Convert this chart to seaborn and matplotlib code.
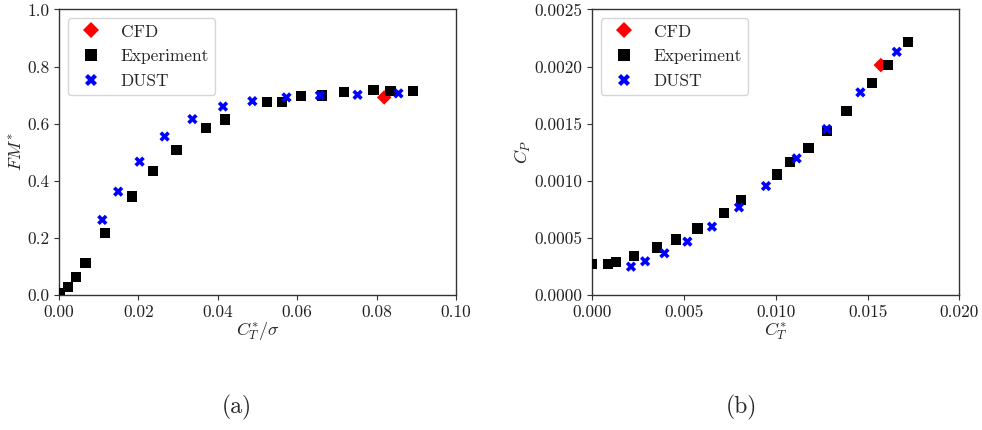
import numpy as np
import pandas as pd
import matplotlib
matplotlib.use("Agg")
import matplotlib.pyplot as plt
import seaborn as sns

# ---------------- data: panel (a) ----------------
a_cfd_x = [0.0819]
a_cfd_y = [0.692]
a_exp_x = [0.0003, 0.0023, 0.0043, 0.0067, 0.0115, 0.0183, 0.0236, 0.0296, 0.0370, 0.0418,
           0.0523, 0.0561, 0.0609, 0.0663, 0.0718, 0.0792, 0.0835, 0.0891]
a_exp_y = [0.005, 0.029, 0.064, 0.113, 0.218, 0.345, 0.433, 0.508, 0.584, 0.615,
           0.675, 0.675, 0.696, 0.699, 0.711, 0.717, 0.715, 0.714]
a_dust_x = [0.0109, 0.0149, 0.0203, 0.0266, 0.0336, 0.0413, 0.0487, 0.0573, 0.0657, 0.0752, 0.0855]
a_dust_y = [0.263, 0.362, 0.467, 0.555, 0.616, 0.660, 0.679, 0.692, 0.699, 0.701, 0.706]

# ---------------- data: panel (b) ----------------
b_cfd_x = [0.01572]
b_cfd_y = [0.002013]
b_exp_x = [0.0000, 0.00085, 0.0013, 0.00229, 0.00352, 0.00457, 0.00574, 0.00717, 0.0081,
           0.01006, 0.01078, 0.01178, 0.01278, 0.01385, 0.01526, 0.0161, 0.01719]
b_exp_y = [0.000269, 0.000271, 0.000291, 0.000341, 0.000417, 0.000487, 0.000583, 0.00072, 0.000831,
           0.001056, 0.001167, 0.001286, 0.001438, 0.001613, 0.001855, 0.002015, 0.002217]
b_dust_x = [0.00212, 0.00289, 0.00394, 0.00519, 0.00653, 0.0080, 0.00947, 0.01114, 0.01278, 0.01461, 0.01659]
b_dust_y = [0.000248, 0.000295, 0.000365, 0.000467, 0.000598, 0.000767, 0.000954, 0.001196, 0.001453,
            0.001774, 0.002129]

sources = ["CFD", "Experiment", "DUST"]
palette = {"CFD": "#ff0000", "Experiment": "#000000", "DUST": "#0000ff"}
markers = {"CFD": "D", "Experiment": "s", "DUST": "X"}


def frame(cx, cy, ex, ey, dx, dy):
    parts = []
    for name, xs, ys in zip(sources, (cx, ex, dx), (cy, ey, dy)):
        parts.append(pd.DataFrame({"x": xs, "y": ys, "source": name}))
    return pd.concat(parts, ignore_index=True)


df_a = frame(a_cfd_x, a_cfd_y, a_exp_x, a_exp_y, a_dust_x, a_dust_y)
df_b = frame(b_cfd_x, b_cfd_y, b_exp_x, b_exp_y, b_dust_x, b_dust_y)

sns.set_style("ticks")
plt.rcParams.update({
    "font.family": "serif",
    "font.serif": ["cmr10", "DejaVu Serif"],
    "mathtext.fontset": "cm",
    "axes.formatter.use_mathtext": True,
    "font.size": 12.5,
    "axes.edgecolor": "#333333",
    "axes.linewidth": 1.0,
    "xtick.color": "#333333",
    "ytick.color": "#333333",
    "xtick.labelcolor": "#222222",
    "ytick.labelcolor": "#222222",
})

fig = plt.figure(figsize=(9.82, 4.30), dpi=100)
ax_a = fig.add_axes([0.0601, 0.314, 0.4043, 0.664])
ax_b = fig.add_axes([0.6029, 0.314, 0.3741, 0.664])

for ax, df in ((ax_a, df_a), (ax_b, df_b)):
    sns.scatterplot(data=df, x="x", y="y", hue="source", style="source",
                    hue_order=sources, style_order=sources,
                    palette=palette, markers=markers, s=55, linewidth=0,
                    ax=ax, zorder=3)
    sns.move_legend(ax, "upper left", title=None, fontsize=12.5, frameon=True,
                    borderpad=0.35, labelspacing=0.55, handletextpad=0.7,
                    bbox_to_anchor=(0.0, 1.0), markerscale=1.1)
    for sp in ax.spines.values():
        sp.set_visible(True)
    ax.tick_params(labelsize=12.5)

ax_a.set_xlim(0, 0.10)
ax_a.set_ylim(0, 1.0)
ax_a.set_xticks([0.0, 0.02, 0.04, 0.06, 0.08, 0.10])
ax_a.set_yticks([0.0, 0.2, 0.4, 0.6, 0.8, 1.0])
ax_a.set_xticklabels(["0.00", "0.02", "0.04", "0.06", "0.08", "0.10"])
ax_a.set_yticklabels(["0.0", "0.2", "0.4", "0.6", "0.8", "1.0"])
ax_a.set_xlabel(r"$C_T^{*}/\sigma$", fontsize=13, labelpad=0)
ax_a.set_ylabel(r"$FM^{*}$", fontsize=13, labelpad=1)

ax_b.set_xlim(0, 0.020)
ax_b.set_ylim(0, 0.0025)
ax_b.set_xticks([0.0, 0.005, 0.010, 0.015, 0.020])
ax_b.set_yticks([0.0, 0.0005, 0.0010, 0.0015, 0.0020, 0.0025])
ax_b.set_xticklabels(["0.000", "0.005", "0.010", "0.015", "0.020"])
ax_b.set_yticklabels(["0.0000", "0.0005", "0.0010", "0.0015", "0.0020", "0.0025"])
ax_b.set_xlabel(r"$C_T^{*}$", fontsize=13, labelpad=0)
ax_b.set_ylabel(r"$C_P$", fontsize=13, labelpad=1)

fig.text(0.2415, 0.053, "(a)", ha="center", va="center", fontsize=17)
fig.text(0.7555, 0.053, "(b)", ha="center", va="center", fontsize=17)

fig.savefig("out.png", dpi=100)
